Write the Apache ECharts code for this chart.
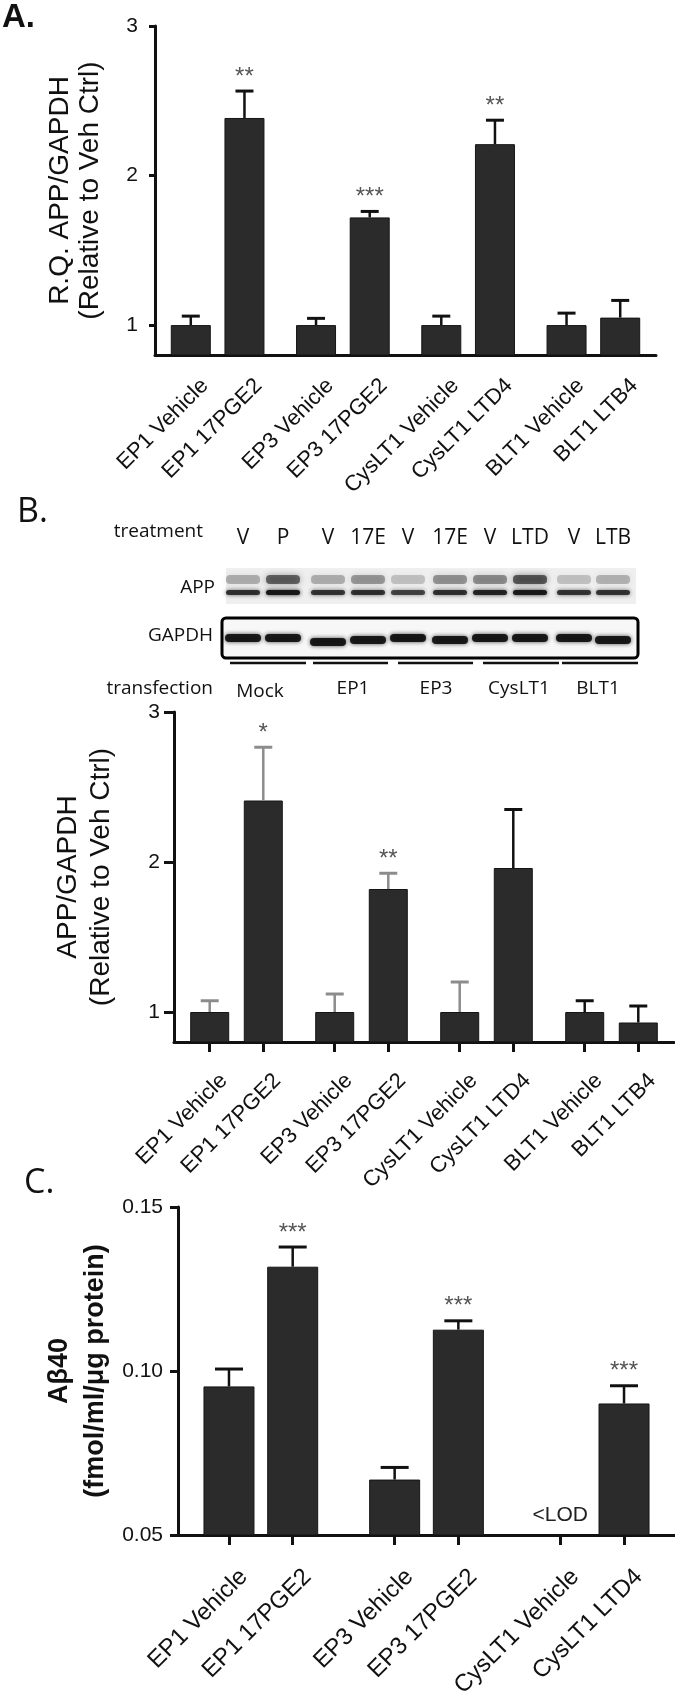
<!DOCTYPE html>
<html><head><meta charset="utf-8">
<script src="https://cdn.jsdelivr.net/npm/echarts@6/dist/echarts.min.js"></script>
<style>html,body{margin:0;padding:0;background:#fff}#c{width:675px;height:1700px}</style>
</head><body><div id="c"></div>
<script>
// ---------- Panel A (qPCR) ----------
const labelsA = ['EP1 Vehicle','EP1 17PGE2','EP3 Vehicle','EP3 17PGE2','CysLT1 Vehicle','CysLT1 LTD4','BLT1 Vehicle','BLT1 LTB4'];
const valuesA = [1.00, 2.385, 1.00, 1.72, 1.00, 2.21, 1.00, 1.05];
const errA    = [0.06, 0.18, 0.045, 0.04, 0.06, 0.16, 0.08, 0.115];
const starsA  = ['', '**', '', '***', '', '**', '', ''];
const ticksA  = [1, 2, 3];
// ---------- Panel B (western blot quantification) ----------
const labelsB = ['EP1 Vehicle','EP1 17PGE2','EP3 Vehicle','EP3 17PGE2','CysLT1 Vehicle','CysLT1 LTD4','BLT1 Vehicle','BLT1 LTB4'];
const valuesB = [1.00, 2.41, 1.00, 1.82, 1.00, 1.96, 1.00, 0.93];
const errB    = [0.075, 0.355, 0.12, 0.105, 0.20, 0.39, 0.075, 0.11];
const starsB  = ['', '*', '', '**', '', '', '', ''];
const ticksB  = [1, 2, 3];
// blot annotation text
const treatmentLanes = ['V','P','V','17E','V','17E','V','LTD','V','LTB'];
const transfectionGroups = ['Mock','EP1','EP3','CysLT1','BLT1'];
// ---------- Panel C (Abeta40) ----------
const labelsC = ['EP1 Vehicle','EP1 17PGE2','EP3 Vehicle','EP3 17PGE2','CysLT1 Vehicle','CysLT1 LTD4'];
const valuesC = [0.0953, 0.1318, 0.0669, 0.1126, null, 0.0901];
const errC    = [0.0053, 0.0060, 0.0037, 0.0027, null, 0.0054];
const starsC  = ['', '***', '', '***', '', '***'];
const notesC  = ['', '', '', '', '<LOD', ''];
const ticksC  = [0.05, 0.10, 0.15];

// ---------- styling / layout ----------
const ARIAL = "'Liberation Sans', Arial, Helvetica, sans-serif";
const OPEN = "'Open Sans', 'Noto Sans', sans-serif";
const INK = '#111';
const BAR = '#2b2b2b';

// slot layout on a category axis: pairs of bars with wider gaps between pairs
const slotAB = i => Math.floor(i / 2) * 7 + 2 + (i % 2) * 3;   // 0..28
const slotC  = i => Math.floor(i / 2) * 13 + 4 + (i % 2) * 5;  // 0..39

function buildCats(n, labels, slotFn) {
  const cats = [];
  for (let k = 0; k < n; k++) cats.push(' '.repeat(k + 1));
  labels.forEach((l, i) => { cats[slotFn(i)] = l; });
  return cats;
}
const isReal = (idx, val) => String(val).trim() !== '';

function xAxisFor(grid, n, labels, slotFn, o) {
  return {
    type: 'category', gridIndex: grid, boundaryGap: false,
    data: buildCats(n, labels, slotFn),
    axisLine: { show: true, onZero: false, lineStyle: { color: INK, width: 3 } },
    axisTick: { show: o.ticks, interval: isReal, length: 10, inside: false, lineStyle: { color: INK, width: 3 } },
    axisLabel: { interval: isReal, rotate: 45, margin: o.margin, fontSize: o.font, fontFamily: ARIAL,
                 color: INK, align: 'right', verticalAlign: 'top', padding: [0, -9, 0, 0] },
    splitLine: { show: false }
  };
}
function yAxisFor(grid, min, max, ticks, o) {
  return {
    type: 'value', gridIndex: grid, min: min, max: max,
    axisLine: { show: true, lineStyle: { color: INK, width: 3 } },
    axisTick: { show: true, length: o.tick, customValues: ticks, lineStyle: { color: INK, width: 3 } },
    axisLabel: { customValues: ticks, margin: o.margin, fontSize: 21, fontFamily: ARIAL, color: INK,
                 formatter: o.fmt },
    splitLine: { show: false },
    name: o.name, nameLocation: 'middle', nameRotate: 90, nameGap: o.nameGap, nameMoveOverlap: false,
    nameTextStyle: { fontSize: o.nameSize, fontFamily: ARIAL, fontWeight: o.nameWeight || 'normal',
                     color: INK, lineHeight: o.nameLH, align: 'center' }
  };
}
function barSeries(grid, values, slotFn, width) {
  return {
    type: 'bar', xAxisIndex: grid, yAxisIndex: grid, barWidth: width, silent: true, z: 2,
    data: values.map((v, i) => [slotFn(i), v]).filter(d => d[1] != null),
    itemStyle: { color: BAR, borderColor: '#151515', borderWidth: 1 }
  };
}
function errSeries(grid, values, errs, stars, slotFn, o) {
  return {
    type: 'custom', xAxisIndex: grid, yAxisIndex: grid, silent: true, z: 5,
    data: values.map((v, i) => [slotFn(i), v, errs[i], i]).filter(d => d[1] != null),
    renderItem: function (params, api) {
      const x = api.value(0), v = api.value(1), e = api.value(2), i = api.value(3);
      const p0 = api.coord([x, v]);
      const p1 = api.coord([x, v + e]);
      const col = o.colors ? o.colors[i] : INK;
      const hw = o.cap / 2;
      const ch = [
        { type: 'line', shape: { x1: p0[0], y1: p0[1], x2: p1[0], y2: p1[1] }, style: { stroke: col, lineWidth: 2.5 } },
        { type: 'line', shape: { x1: p1[0] - hw, y1: p1[1], x2: p1[0] + hw, y2: p1[1] }, style: { stroke: col, lineWidth: 3 } }
      ];
      if (stars[i]) {
        ch.push({ type: 'text', x: p1[0], y: p1[1] - o.starGap,
          style: { text: stars[i], fill: '#555', font: '24px ' + ARIAL, align: 'center', verticalAlign: 'bottom',
                   textAlign: 'center', textVerticalAlign: 'bottom' } });
      }
      return { type: 'group', children: ch };
    }
  };
}

// ---------- blot drawing (decorative illustration) ----------
const laneX = [243, 283, 328, 368, 408, 450, 490, 530, 574, 613];
const appLow = [0.80, 0.95, 0.78, 0.80, 0.70, 0.80, 0.88, 0.95, 0.78, 0.78];
const appUp  = [0.30, 0.65, 0.30, 0.40, 0.22, 0.42, 0.45, 0.70, 0.22, 0.28];
const gapOff = [0, 0, 4, 2, 0, 2, 0, 0, 0, 2];
const underlines = [[230, 306], [313, 388], [398, 473], [483, 559], [562, 638]];
const groupX = [260, 353, 436, 519, 598];

function txt(text, x, y, font, align, extra) {
  return Object.assign({ type: 'text', x: x, y: y, silent: true,
    style: { text: text, font: font, fill: INK, align: align, verticalAlign: 'middle',
             textAlign: align, textVerticalAlign: 'middle' } }, extra || {});
}
const g = [];
g.push(txt('A.', 2, 18, 'bold 33px ' + ARIAL, 'left'));
g.push(txt('B.', 17, 512, '34px ' + OPEN, 'left'));
g.push(txt('C.', 24, 1183, '34px ' + OPEN, 'left'));
g.push(txt('treatment', 203, 532, '19px ' + OPEN, 'right'));
treatmentLanes.forEach((t, i) => g.push(txt(t, laneX[i], 538, '21px ' + OPEN, 'center')));
g.push(txt('APP', 215, 588, '19px ' + OPEN, 'right'));
g.push(txt('GAPDH', 213, 636, '19px ' + OPEN, 'right'));
g.push(txt('transfection', 213, 689, '19px ' + OPEN, 'right'));
transfectionGroups.forEach((t, i) => g.push(txt(t, groupX[i], i === 0 ? 692 : 689, '19px ' + OPEN, 'center')));
// APP strip
g.push({ type: 'rect', silent: true, shape: { x: 226, y: 568, width: 410, height: 36 },
         style: { fill: '#efefef' } });
laneX.forEach((cx, i) => {
  g.push({ type: 'rect', silent: true, shape: { x: cx - 17, y: 575, width: 34, height: 9, r: 4 },
           style: { fill: 'rgba(40,40,40,' + appUp[i] + ')', shadowBlur: 6, shadowColor: 'rgba(40,40,40,' + appUp[i] + ')' } });
  g.push({ type: 'rect', silent: true, shape: { x: cx - 17, y: 590, width: 34, height: 5, r: 2.5 },
           style: { fill: 'rgba(20,20,20,' + appLow[i] + ')', shadowBlur: 4, shadowColor: 'rgba(20,20,20,' + appLow[i] + ')' } });
});
// GAPDH box
g.push({ type: 'rect', silent: true, shape: { x: 222, y: 618, width: 416, height: 40, r: 4 },
         style: { fill: '#f7f7f7', stroke: '#000', lineWidth: 3 } });
laneX.forEach((cx, i) => {
  g.push({ type: 'rect', silent: true, shape: { x: cx - 18, y: 634 + gapOff[i], width: 36, height: 8, r: 4 },
           style: { fill: 'rgba(15,15,15,0.92)', shadowBlur: 4, shadowColor: 'rgba(15,15,15,0.8)' } });
});
underlines.forEach(u => g.push({ type: 'line', silent: true, shape: { x1: u[0], y1: 663, x2: u[1], y2: 663 },
                                  style: { stroke: INK, lineWidth: 2.5 } }));

// ---------- chart ----------
const chart = echarts.init(document.getElementById('c'), null, { renderer: 'canvas', width: 675, height: 1700 });
const grayB = ['#8c8c8c', '#8c8c8c', '#8c8c8c', '#8c8c8c', '#8c8c8c', INK, INK, INK];

chart.setOption({
  animation: false,
  backgroundColor: '#fff',
  grid: [
    { left: 155, top: 26, width: 501, height: 329, containLabel: false, outerBoundsMode: 'none' },
    { left: 174, top: 712, width: 500, height: 330, containLabel: false, outerBoundsMode: 'none' },
    { left: 178, top: 1207, width: 497, height: 328, containLabel: false, outerBoundsMode: 'none' }
  ],
  xAxis: [
    xAxisFor(0, 29, labelsA, slotAB, { ticks: false, margin: 26, font: 22 }),
    xAxisFor(1, 29, labelsB, slotAB, { ticks: true, margin: 34, font: 22 }),
    xAxisFor(2, 40, labelsC, slotC, { ticks: true, margin: 36, font: 24 })
  ],
  yAxis: [
    yAxisFor(0, 0.8, 3, ticksA, { tick: 6, margin: 17, fmt: v => String(v), name: 'R.Q. APP/GAPDH\n(Relative to Veh Ctrl)',
             nameGap: 50, nameSize: 28, nameLH: 30 }),
    yAxisFor(1, 0.8, 3, ticksB, { tick: 10, margin: 14, fmt: v => String(v), name: 'APP/GAPDH\n(Relative to Veh Ctrl)',
             nameGap: 56, nameSize: 28, nameLH: 33 }),
    yAxisFor(2, 0.05, 0.15, ticksC, { tick: 8, margin: 15, fmt: v => v.toFixed(2), name: 'A\u03B240\n(fmol/ml/\u03BCg protein)',
             nameGap: 64, nameSize: 27, nameLH: 36, nameWeight: 'bold' })
  ],
  series: [
    barSeries(0, valuesA, slotAB, 40),
    errSeries(0, valuesA, errA, starsA, slotAB, { cap: 18, starGap: 2 }),
    barSeries(1, valuesB, slotAB, 39),
    errSeries(1, valuesB, errB, starsB, slotAB, { cap: 18, starGap: 2, colors: grayB }),
    barSeries(2, valuesC, slotC, 51),
    errSeries(2, valuesC, errC, starsC, slotC, { cap: 28, starGap: 2 }),
    {
      type: 'custom', xAxisIndex: 2, yAxisIndex: 2, silent: true, z: 6,
      data: notesC.map((n, i) => [slotC(i), 0.05, i]).filter(d => notesC[d[2]]),
      renderItem: function (params, api) {
        const p = api.coord([api.value(0), api.value(1)]);
        return { type: 'text', x: p[0], y: p[1] - 20,
          style: { text: notesC[api.value(2)], fill: '#222', font: '21px ' + ARIAL, align: 'center', verticalAlign: 'middle',
                   textAlign: 'center', textVerticalAlign: 'middle' } };
      }
    }
  ],
  graphic: { elements: g }
});
</script>
</body></html>
